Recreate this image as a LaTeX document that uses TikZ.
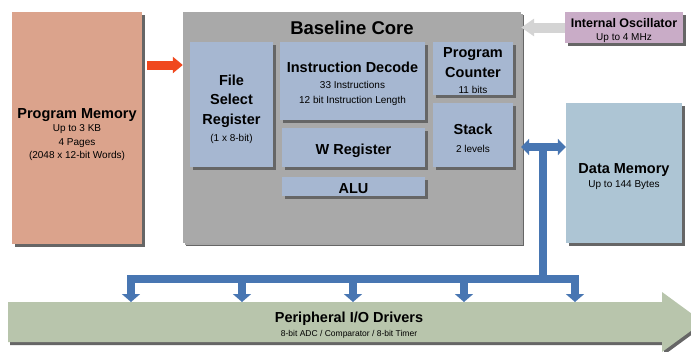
\documentclass[tikz,border=0pt]{standalone}
\usepackage{fontspec}
\setmainfont{Liberation Sans}
\usetikzlibrary{arrows.meta, positioning, calc, shadows}

\definecolor{pmemred}{RGB}{219,163,140}
\definecolor{coregray}{RGB}{169,169,169}
\definecolor{unitblue}{RGB}{166,183,209}
\definecolor{dmemblue}{RGB}{173,197,212}
\definecolor{oscpurple}{RGB}{201,172,199}
\definecolor{perigreen}{RGB}{184,197,172}
\definecolor{busblue}{RGB}{72,118,178}
\definecolor{arrred}{RGB}{240,72,30}
\definecolor{oscarrow}{RGB}{212,212,212}

\newcommand{\hd}{\fontsize{14.5}{17}\selectfont\bfseries}
\newcommand{\sm}{\fontsize{10}{12}\selectfont\mdseries}
\newcommand{\topgap}[1]{\rule{0pt}{#1}}

\begin{document}
\begin{tikzpicture}[x=1pt, y=-1pt,
    blk/.style={inner sep=0pt, align=center,
        drop shadow={shadow xshift=3pt, shadow yshift=-3pt, fill=black!60, opacity=1}},
    unit/.style={blk, fill=unitblue},
    bus/.style={draw=busblue, line width=8.5pt},
    bustip/.style={-{Triangle[length=8pt, width=18pt]}}]

    % Frame
    \path[use as bounding box, fill=white] (0,0) rectangle (691,351);

    % Peripheral arrow
    \fill[perigreen, drop shadow={shadow xshift=2pt, shadow yshift=-3pt, fill=black!60, opacity=1}]
        (8,302) -- (662,302) -- (662,292) -- (703,322) -- (662,352) -- (662,342) -- (8,342) -- cycle;
    \coordinate (ptop) at (349,302);
    \node[align=center, font=\fontsize{10}{14}\selectfont] (periph) at (349,323)
        {{\hd\topgap{14.6pt}Peripheral I/O Drivers}\\{\fontsize{8.5}{10}\selectfont 8-bit ADC / Comparator / 8-bit Timer}};

    % Program memory
    \node[blk, fill=pmemred, minimum width=130pt, minimum height=232pt, font=\fontsize{10}{13.5}\selectfont]
        (progmem) at (77,128) {{\hd\topgap{22.6pt}Program Memory}\\Up to 3 KB\\4 Pages\\(2048 x 12-bit Words)};

    % Baseline core
    \node[blk, fill=coregray, minimum width=338pt, minimum height=231pt,
        drop shadow={shadow xshift=2pt, shadow yshift=-2pt, fill=black!35, opacity=1}] (core) at (352,127.5) {};
    \node[font=\fontsize{18.5}{22}\selectfont\bfseries] (coretitle) at (352,28) {Baseline Core};

    \node[unit, minimum width=83pt, minimum height=125pt, font=\fontsize{14.5}{19.5}\selectfont\bfseries]
        (fsr) at (231.5,104.5) {\topgap{19.6pt}File\\Select\\Register\\[-2pt]{\sm (1 x 8-bit)}};
    \node[unit, minimum width=145pt, minimum height=78pt, font=\fontsize{10}{15}\selectfont]
        (idec) at (352.5,81) {{\hd\topgap{16.6pt}Instruction Decode}\\[1pt]33 Instructions\\12 bit Instruction Length};
    \node[unit, minimum width=80pt, minimum height=53pt, font=\fontsize{14.5}{20}\selectfont\bfseries]
        (pc) at (473,68.5) {\topgap{14.6pt}Program\\Counter\\[-4pt]{\sm 11 bits}};
    \node[unit, minimum width=80pt, minimum height=64pt, font=\fontsize{10}{18}\selectfont]
        (stack) at (473,135) {{\hd\topgap{16.6pt}Stack}\\2 levels};
    \node[unit, minimum width=143pt, minimum height=39pt] (wreg) at (353.5,147.5) {\hd\topgap{16.6pt}W Register};
    \node[unit, minimum width=143pt, minimum height=19pt] (alu) at (353.5,186.5) {\hd\topgap{14.6pt}ALU};

    % Oscillator and data memory
    \node[blk, fill=oscpurple, minimum width=118pt, minimum height=29pt, font=\fontsize{10}{13}\selectfont]
        (osc) at (624,27.5) {{\fontsize{12.5}{14}\selectfont\bfseries\topgap{15.1pt}Internal Oscillator}\\Up to 4 MHz};
    \node[blk, fill=dmemblue, minimum width=116pt, minimum height=140pt, font=\fontsize{10}{14}\selectfont]
        (datamem) at (624,173) {{\hd\topgap{16.6pt}Data Memory}\\Up to 144 Bytes};

    % Arrows into the core
    \coordinate (pmout) at ([xshift=5pt, yshift=63pt]progmem.east);
    \draw[line width=9pt, draw=arrred, -{Triangle[length=10pt, width=16pt]}] (pmout) -- (core.west |- pmout);
    \draw[line width=10pt, draw=oscarrow, -{Triangle[length=13pt, width=17pt]}] (osc.west) -- (core.east |- osc.west);

    % Data bus
    \coordinate (bj) at (543,147);
    \coordinate (bb) at (543,279);
    \draw[bus, {Triangle[length=8pt, width=16pt]}-{Triangle[length=8pt, width=16pt]}]
        (core.east |- bj) -- (datamem.west |- bj);
    \draw[bus] (bj) -- (bb);
    \foreach \x [count=\i] in {131,242,353,464,575}
        \coordinate (b\i) at (\x,279);
    \draw[bus, line cap=rect] (b1) -- (b5);
    \foreach \i in {1,...,5}
        \draw[bus, bustip] (b\i) -- (b\i |- ptop);

\end{tikzpicture}
\end{document}
